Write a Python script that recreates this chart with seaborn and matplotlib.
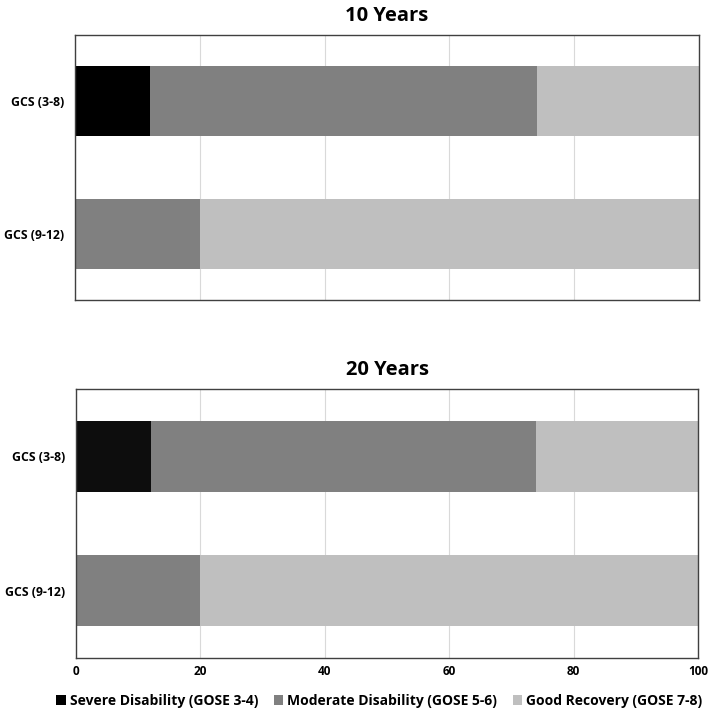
import numpy as np
import pandas as pd
import seaborn as sns
from matplotlib import pyplot as plt
from matplotlib.patches import Patch

groups = ["GCS (3-8)", "GCS (9-12)"]
outcomes = ["Severe Disability (GOSE 3-4)", "Moderate Disability (GOSE 5-6)", "Good Recovery (GOSE 7-8)"]
colors = ["#000000", "#808080", "#bfbfbf"]
colors_20 = ["#0d0d0d", "#808080", "#bfbfbf"]

# percentages per group, in outcome order
years10 = {"GCS (3-8)": [12, 62, 26], "GCS (9-12)": [0, 20, 80]}
years20 = {"GCS (3-8)": [12, 62, 26], "GCS (9-12)": [0, 20, 80]}
xticks = [0, 20, 40, 60, 80, 100]

sns.set_style("white")
plt.rcParams['font.family'] = ['Open Sans', 'DejaVu Sans']
plt.rcParams['font.weight'] = 'bold'
plt.rcParams['text.color'] = 'black'
plt.rcParams['xtick.color'] = 'black'
plt.rcParams['ytick.color'] = 'black'

fig = plt.figure(figsize=(7.09, 7.15), dpi=100)
ax1 = fig.add_axes([0.1058, 0.580, 0.8802, 0.371])
ax2 = fig.add_axes([0.1072, 0.0797, 0.8773, 0.376])


def stacked(ax, data, cols, title, show_ticks):
    df = pd.DataFrame(data, index=outcomes).T
    cum = df.cumsum(axis=1)
    # draw the longest first so the shorter ones sit on top
    for i in reversed(range(len(outcomes))):
        sns.barplot(x=cum.iloc[:, i].values, y=groups, orient="h", color=cols[i],
                    width=0.53, ax=ax, saturation=1, zorder=2, linewidth=0, edgecolor="none")
    ax.set_xlim(0, 100)
    ax.set_ylim(1.5, -0.5)
    ax.set_xticks(xticks)
    ax.grid(axis="x", color="#d9d9d9", linewidth=0.8, zorder=0)
    ax.set_axisbelow(True)
    for s in ax.spines.values():
        s.set_visible(True)
        s.set_color("#404040")
        s.set_linewidth(1.0)
    ax.set_title(title, fontsize=14.5, fontweight="bold", pad=10, color="black")
    ax.set_xlabel("")
    ax.set_ylabel("")
    ax.tick_params(axis="y", length=0, labelsize=8.8, pad=8, labelcolor="black")
    if show_ticks:
        ax.tick_params(axis="x", length=0, labelsize=8.5, pad=5, labelcolor="black")
    else:
        ax.tick_params(axis="x", length=0, labelbottom=False)
    for lbl in ax.get_xticklabels() + ax.get_yticklabels():
        lbl.set_fontweight("bold")


stacked(ax1, years10, colors, "10 Years", False)
stacked(ax2, years20, colors_20, "20 Years", True)

handles = [Patch(facecolor=c, edgecolor="none") for c in colors]
fig.legend(handles, outcomes, loc="lower center", bbox_to_anchor=(0.535, -0.008), ncol=3,
           frameon=False, prop={"weight": "bold", "size": 10}, handlelength=0.7,
           handleheight=0.7, handletextpad=0.3, columnspacing=1.1, labelcolor="black")

fig.savefig("out.png", dpi=100)
